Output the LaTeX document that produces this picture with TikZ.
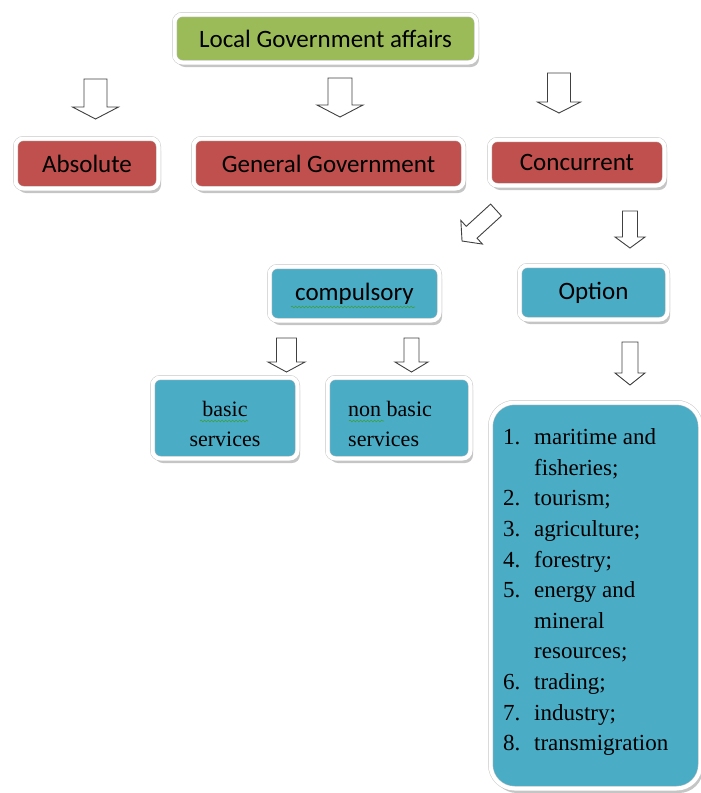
\documentclass[tikz,border=0pt]{standalone}
\usepackage{fontspec}
\setmainfont{Liberation Serif}
\newfontfamily\calfont{Carlito}
\usetikzlibrary{shadows,decorations.pathmorphing}
\definecolor{gfill}{HTML}{9BBB59}
\definecolor{rfill}{HTML}{C0504D}
\definecolor{bfill}{HTML}{4BACC6}
\definecolor{squig}{HTML}{3CA03C}
% block arrow: x, y (top centre), rotation, shaft half, head half, length, head length
\newcommand{\blockarr}[7]{%
  \draw[black!75, fill=white, line width=0.9pt, line join=miter, shift={(#1,#2)}, rotate=#3]
    (-#4,0) -- (-#4,{#6-#7}) -- (-#5,{#6-#7}) -- (0,#6) -- (#5,{#6-#7}) -- (#4,{#6-#7}) -- (#4,0) -- cycle;}
\begin{document}
\begin{tikzpicture}[x=1pt,y=-1pt,
  box/.style={rectangle, rounded corners=8pt, draw=black!22, double=white,
    double distance=4pt, line width=0.5pt, inner sep=0pt, text=black,
    drop shadow={shadow xshift=2.5pt, shadow yshift=-4.5pt, fill=black!45, opacity=0.5}},
  calib/.style={font=\calfont\fontsize{25}{30}\selectfont},
  serif/.style={font=\fontsize{22}{30}\selectfont, inner sep=0pt},
  squiggle/.style={draw=squig, line width=0.6pt, decorate,
    decoration={snake, segment length=3.5pt, amplitude=0.9pt}}
]
\useasboundingbox (0,0) rectangle (701,793);

% top
\node[box, fill=gfill, minimum width=302pt, minimum height=48pt, calib] (top) at (325.5,38.5) {Local Government affairs};

% second row
\node[box, fill=rfill, minimum width=143pt, minimum height=50pt, calib] (abs) at (87,163.5) {Absolute};
\node[box, fill=rfill, minimum width=270pt, minimum height=50pt, calib] (gen) at (328.5,163.5) {General Government};
\node[box, fill=rfill, minimum width=175pt, minimum height=46pt, calib] (conc) at (577,162.5) {Concurrent};

% third row
\node[box, fill=bfill, minimum width=170pt, minimum height=54pt, calib] (comp) at (354.5,293.5) {compulsory};
\node[box, fill=bfill, minimum width=148pt, minimum height=54pt, calib] (opt) at (593.5,292.5) {Option};

% fourth row
\node[box, fill=bfill, minimum width=145pt, minimum height=81pt] (basic) at (225,418) {};
\node[serif, align=center] (basictext) at (225,424) {basic\\services};
\node[box, fill=bfill, minimum width=143pt, minimum height=81pt] (nonbasic) at (399,418) {};
\node[serif, align=left, anchor=west] (nonbasictext) at (348,424) {non basic\\services};

% list box
\node[box, fill=bfill, rounded corners=24pt, minimum width=210pt, minimum height=386pt] (list) at (595.5,595.5) {};
\node[anchor=north west, inner sep=0pt, font=\fontsize{23}{30.6}\selectfont] (listtext) at (503,423)
  {\begin{tabular}{@{}p{31pt}@{}l@{}}
   1. & maritime and\\
      & fisheries;\\
   2. & tourism;\\
   3. & agriculture;\\
   4. & forestry;\\
   5. & energy and\\
      & mineral\\
      & resources;\\
   6. & trading;\\
   7. & industry;\\
   8. & transmigration
   \end{tabular}};

% spell-check squiggles
\draw[squiggle] (291,307) -- (415,307);
\draw[squiggle] (200,421) -- (248,421);
\draw[squiggle] (349,421) -- (384,421);

% block arrows
\blockarr{95.5}{79}{0}{11.5}{23}{40}{12}
\blockarr{340}{78}{0}{12}{23}{39}{12}
\blockarr{559}{73}{0}{11.5}{21.5}{40}{11}
\blockarr{496}{210}{-47.6}{8}{16}{46}{13}
\blockarr{630}{211}{0}{7.5}{15}{37}{11}
\blockarr{286.5}{338}{0}{10}{18.5}{34}{10}
\blockarr{411.5}{338}{0}{7.5}{16.5}{34}{10}
\blockarr{630}{342}{0}{8}{15}{43}{12}
\end{tikzpicture}
\end{document}
